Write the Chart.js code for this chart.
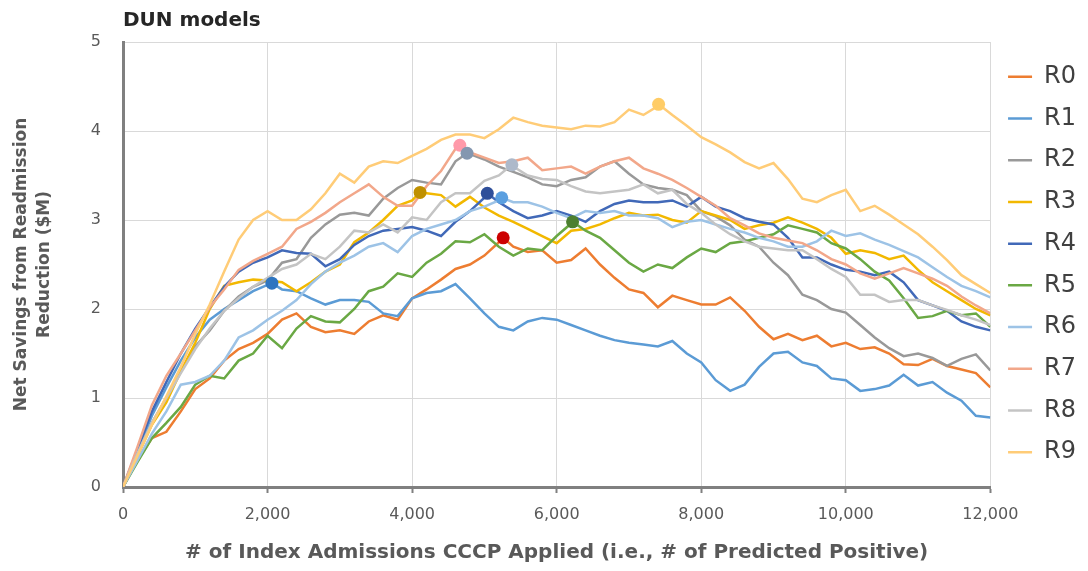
<!DOCTYPE html>
<html>
<head>
<meta charset="utf-8">
<title>DUN models</title>
<script src="https://cdn.jsdelivr.net/npm/chart.js@4.4.1/dist/chart.umd.min.js"></script>
<style>
  html, body { margin: 0; padding: 0; background: #fff; }
  #wrap { width: 1088px; height: 571px; }
</style>
</head>
<body>
<div id="wrap"><canvas id="chart" width="1088" height="571"></canvas></div>
<script>
// x positions (# of index admissions), one reading every 200
const ADMISSIONS = [0, 200, 400, 600, 800, 1000, 1200, 1400, 1600, 1800,
  2000, 2200, 2400, 2600, 2800, 3000, 3200, 3400, 3600, 3800,
  4000, 4200, 4400, 4600, 4800, 5000, 5200, 5400, 5600, 5800,
  6000, 6200, 6400, 6600, 6800, 7000, 7200, 7400, 7600, 7800,
  8000, 8200, 8400, 8600, 8800, 9000, 9200, 9400, 9600, 9800,
  10000, 10200, 10400, 10600, 10800, 11000, 11200, 11400, 11600, 11800, 12000];

// net savings ($M)
const R0 = [0, 0.3, 0.55, 0.62, 0.85, 1.1, 1.22, 1.42, 1.55, 1.62, 1.72, 1.88, 1.95, 1.8, 1.74, 1.76, 1.72, 1.86, 1.93, 1.88,
  2.12, 2.22, 2.33, 2.45, 2.5, 2.6, 2.75, 2.7, 2.64, 2.66, 2.52, 2.55, 2.68, 2.5, 2.35, 2.22, 2.18, 2.02, 2.15, 2.1,
  2.05, 2.05, 2.13, 1.98, 1.8, 1.66, 1.72, 1.65, 1.7, 1.58, 1.62, 1.55, 1.57, 1.5, 1.38, 1.37, 1.44, 1.36, 1.32, 1.28, 1.12];
const R1 = [0, 0.4, 0.8, 1.12, 1.42, 1.68, 1.88, 2.0, 2.1, 2.2, 2.27, 2.22, 2.2, 2.12, 2.05, 2.1, 2.1, 2.08, 1.95, 1.92,
  2.12, 2.18, 2.2, 2.28, 2.12, 1.95, 1.8, 1.76, 1.86, 1.9, 1.88, 1.82, 1.76, 1.7, 1.65, 1.62, 1.6, 1.58, 1.64, 1.5,
  1.4, 1.2, 1.08, 1.15, 1.35, 1.5, 1.52, 1.4, 1.36, 1.22, 1.2, 1.08, 1.1, 1.14, 1.26, 1.14, 1.18, 1.06, 0.97, 0.8, 0.78];
const R2 = [0, 0.38, 0.72, 1.0, 1.3, 1.58, 1.76, 1.98, 2.14, 2.25, 2.32, 2.52, 2.56, 2.8, 2.95, 3.06, 3.08, 3.05, 3.24, 3.36,
  3.45, 3.42, 3.4, 3.66, 3.74, 3.68, 3.6, 3.54, 3.48, 3.4, 3.38, 3.45, 3.48, 3.6, 3.66, 3.52, 3.4, 3.36, 3.34, 3.28,
  3.1, 3.04, 2.94, 2.78, 2.7, 2.52, 2.38, 2.16, 2.1, 2.0, 1.96, 1.82, 1.68, 1.56, 1.47, 1.5, 1.45, 1.36, 1.44, 1.49, 1.31];
const R3 = [0, 0.35, 0.7, 0.95, 1.3, 1.62, 2.0, 2.26, 2.3, 2.33, 2.32, 2.3, 2.2, 2.3, 2.42, 2.5, 2.75, 2.86, 3.0, 3.16,
  3.22, 3.3, 3.28, 3.15, 3.26, 3.14, 3.05, 2.98, 2.9, 2.82, 2.74, 2.88, 2.9, 2.95, 3.02, 3.08, 3.05, 3.06, 3.0, 2.97,
  3.1, 3.05, 3.0, 2.9, 2.94, 2.97, 3.03, 2.97, 2.9, 2.8, 2.62, 2.66, 2.63, 2.56, 2.6, 2.44, 2.3, 2.2, 2.1, 2.0, 1.93];
const R4 = [0, 0.42, 0.85, 1.18, 1.5, 1.78, 2.02, 2.25, 2.42, 2.52, 2.58, 2.66, 2.63, 2.62, 2.48, 2.56, 2.72, 2.82, 2.88, 2.9,
  2.92, 2.88, 2.82, 2.98, 3.1, 3.25, 3.2, 3.1, 3.02, 3.05, 3.1, 3.05, 2.98, 3.1, 3.18, 3.22, 3.2, 3.2, 3.22, 3.15,
  3.26, 3.15, 3.1, 3.02, 2.98, 2.95, 2.8, 2.58, 2.58, 2.5, 2.44, 2.42, 2.38, 2.42, 2.3, 2.1, 2.04, 1.98, 1.86, 1.8, 1.76];
const R5 = [0, 0.28, 0.55, 0.72, 0.9, 1.15, 1.25, 1.22, 1.42, 1.5, 1.7, 1.56, 1.78, 1.92, 1.86, 1.85, 2.0, 2.2, 2.25, 2.4,
  2.36, 2.52, 2.62, 2.76, 2.75, 2.84, 2.7, 2.6, 2.68, 2.66, 2.82, 2.96, 2.88, 2.8, 2.66, 2.52, 2.42, 2.5, 2.46, 2.58,
  2.68, 2.64, 2.74, 2.76, 2.8, 2.84, 2.94, 2.9, 2.86, 2.74, 2.68, 2.56, 2.42, 2.32, 2.12, 1.9, 1.92, 1.98, 1.93, 1.95, 1.8];
const R6 = [0, 0.3, 0.6, 0.85, 1.15, 1.18, 1.25, 1.42, 1.68, 1.76, 1.88, 1.98, 2.1, 2.28, 2.42, 2.52, 2.6, 2.7, 2.74, 2.64,
  2.82, 2.9, 2.95, 3.0, 3.1, 3.15, 3.22, 3.2, 3.2, 3.15, 3.08, 3.02, 3.1, 3.08, 3.1, 3.05, 3.05, 3.02, 2.92, 2.98,
  3.0, 2.95, 2.9, 2.86, 2.8, 2.76, 2.7, 2.7, 2.76, 2.88, 2.82, 2.85, 2.78, 2.72, 2.65, 2.58, 2.47, 2.36, 2.26, 2.2, 2.13];
const R7 = [0, 0.45, 0.92, 1.25, 1.5, 1.76, 2.02, 2.22, 2.44, 2.54, 2.62, 2.7, 2.9, 2.98, 3.08, 3.2, 3.3, 3.4, 3.26, 3.16,
  3.16, 3.38, 3.55, 3.8, 3.76, 3.7, 3.64, 3.66, 3.7, 3.56, 3.58, 3.6, 3.52, 3.6, 3.66, 3.7, 3.58, 3.52, 3.45, 3.36,
  3.26, 3.16, 3.02, 2.94, 2.85, 2.8, 2.77, 2.74, 2.66, 2.56, 2.5, 2.4, 2.34, 2.4, 2.46, 2.4, 2.34, 2.26, 2.14, 2.04, 1.95];
const R8 = [0, 0.38, 0.72, 1.0, 1.28, 1.55, 1.78, 1.98, 2.12, 2.25, 2.35, 2.45, 2.5, 2.62, 2.56, 2.7, 2.88, 2.86, 2.95, 2.86,
  3.03, 3.0, 3.2, 3.3, 3.3, 3.44, 3.5, 3.6, 3.5, 3.46, 3.45, 3.38, 3.32, 3.3, 3.32, 3.34, 3.4, 3.3, 3.34, 3.18,
  3.08, 2.95, 2.84, 2.76, 2.7, 2.68, 2.66, 2.66, 2.56, 2.45, 2.36, 2.16, 2.16, 2.08, 2.1, 2.1, 2.04, 1.99, 1.93, 1.88, 1.82];
const R9 = [0, 0.35, 0.7, 1.02, 1.35, 1.72, 2.05, 2.42, 2.78, 3.0, 3.1, 3.0, 3.0, 3.12, 3.3, 3.52, 3.42, 3.6, 3.66, 3.64,
  3.72, 3.8, 3.9, 3.96, 3.96, 3.92, 4.02, 4.15, 4.1, 4.06, 4.04, 4.02, 4.06, 4.05, 4.1, 4.24, 4.18, 4.28, 4.18, 4.06,
  3.93, 3.85, 3.76, 3.65, 3.58, 3.64, 3.46, 3.24, 3.2, 3.28, 3.34, 3.1, 3.16, 3.06, 2.95, 2.84, 2.7, 2.55, 2.38, 2.28, 2.18];

const SERIES_NAMES = ['R0', 'R1', 'R2', 'R3', 'R4', 'R5', 'R6', 'R7', 'R8', 'R9'];
const SERIES_VALUES = [R0, R1, R2, R3, R4, R5, R6, R7, R8, R9];

// the maximum of each curve, marked with a dot
const PEAK_ADMISSIONS = [5260, 2060, 4760, 4110, 5040, 6220, 5240, 4660, 5380, 7410];
const PEAK_SAVINGS = [2.80, 2.29, 3.75, 3.31, 3.30, 2.98, 3.25, 3.84, 3.62, 4.30];

const LINE_COLORS = ['#ED7D31', '#5B9BD5', '#999999', '#F2B800', '#4169B8',
  '#6AA844', '#9DC3E6', '#F2A78A', '#C4C4C4', '#FFCC77'];
const PEAK_COLORS = ['#CC0000', '#2E75C0', '#8497B0', '#BF9000', '#2F4F9A',
  '#4C8030', '#5A9FE0', '#FF9AAA', '#ADB9CA', '#FFCC66'];

const FONT = 'DejaVu Sans';
const GREY_TEXT = '#595959';

function linePoints(i) {
  let pts = ADMISSIONS.map((x, k) => ({ x: x, y: SERIES_VALUES[i][k] }));
  pts.push({ x: PEAK_ADMISSIONS[i], y: PEAK_SAVINGS[i] });
  pts.sort((a, b) => a.x - b.x);
  return pts;
}

let datasets = [];

// lines: later series drawn on top, like the original
for (let i = 0; i < SERIES_NAMES.length; ++i) {
  datasets.push({
    label: SERIES_NAMES[i],
    data: linePoints(i),
    borderColor: LINE_COLORS[i],
    backgroundColor: LINE_COLORS[i],
    borderWidth: 2.5,
    pointRadius: 0,
    tension: 0,
    order: 20 - i
  });
}

// peak markers on top of everything
for (let i = 0; i < SERIES_NAMES.length; ++i) {
  datasets.push({
    label: 'peak ' + SERIES_NAMES[i],
    data: [{ x: PEAK_ADMISSIONS[i], y: PEAK_SAVINGS[i] }],
    showLine: false,
    pointRadius: 6.5,
    pointBackgroundColor: PEAK_COLORS[i],
    pointBorderWidth: 0,
    order: 0
  });
}

new Chart(document.getElementById('chart'), {
  type: 'line',
  data: { datasets: datasets },
  options: {
    responsive: false,
    animation: false,
    layout: { padding: { left: 0, right: 2, top: 0, bottom: 0 } },
    plugins: {
      title: {
        display: true,
        text: 'DUN models',
        align: 'start',
        fullSize: false,
        color: '#262626',
        font: { family: FONT, size: 20, weight: 'bold' },
        padding: { top: 9, bottom: 9 }
      },
      legend: {
        position: 'right',
        fullSize: false,
        labels: {
          usePointStyle: true,
          pointStyle: 'line',
          pointStyleWidth: 24,
          color: '#404040',
          font: { family: FONT, size: 24 },
          padding: 17.7,
          filter: (item) => item.datasetIndex < SERIES_NAMES.length,
          sort: (a, b) => a.datasetIndex - b.datasetIndex
        }
      },
      tooltip: { enabled: false }
    },
    scales: {
      x: {
        type: 'linear',
        min: 0,
        max: 12000,
        ticks: {
          stepSize: 2000,
          color: GREY_TEXT,
          font: { family: FONT, size: 16 },
          padding: 12,
          maxRotation: 0,
          callback: (v) => v.toLocaleString('en-US')
        },
        grid: { color: '#d9d9d9', tickColor: '#808080', tickLength: 6, tickWidth: 2 },
        border: { color: '#808080', width: 3 },
        title: {
          display: true,
          text: '# of Index Admissions CCCP Applied (i.e., # of Predicted Positive)',
          color: GREY_TEXT,
          font: { family: FONT, size: 20, weight: 'bold' },
          padding: { top: 2, bottom: 6 }
        },
        afterFit: (scale) => { scale.height = 84; }
      },
      y: {
        min: 0,
        max: 5,
        ticks: {
          stepSize: 1,
          color: GREY_TEXT,
          font: { family: FONT, size: 16 },
          padding: 22
        },
        grid: { color: '#d9d9d9', drawTicks: false },
        border: { color: '#808080', width: 3 },
        title: {
          display: true,
          text: ['Net Savings from Readmission', 'Reduction ($M)'],
          color: GREY_TEXT,
          font: { family: FONT, size: 17, weight: 'bold', lineHeight: 1.35 },
          padding: { top: 10.5, bottom: 0 }
        },
        afterFit: (scale) => { scale.width = 123; }
      }
    }
  }
});
</script>
</body>
</html>
